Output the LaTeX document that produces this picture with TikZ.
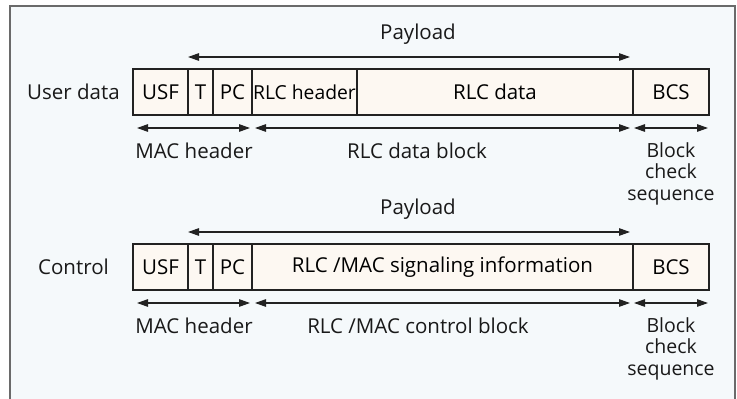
\documentclass[tikz,border=0pt]{standalone}
\usepackage{fontspec}
\setmainfont{Open Sans}
\usetikzlibrary{arrows.meta}
\definecolor{bgc}{HTML}{F5F9FB}
\definecolor{cellc}{HTML}{FDF8F2}
\definecolor{framec}{HTML}{6A6A6A}
\definecolor{linec}{HTML}{222222}
\tikzset{
  cell/.style={draw=linec, line width=1.3pt, fill=cellc, inner sep=0pt, minimum height=46pt, font=\fontsize{20.5}{22}\selectfont},
  lbl/.style={inner sep=0pt, font=\fontsize{20.5}{22}\selectfont, text=black!90},
  bcsl/.style={inner sep=0pt, align=center, anchor=north, font=\fontsize{19.5}{21.5}\selectfont, text=black!90},
  span/.style={line width=1.2pt, draw=linec, {Triangle[length=11pt,width=7.5pt]}-{Triangle[length=11pt,width=7.5pt]}},
}
\begin{document}
\begin{tikzpicture}[x=1pt,y=-1pt]
\useasboundingbox (0,0) rectangle (737,399);
\fill[bgc] (10,6) rectangle (735,410);
\draw[framec, line width=2pt] (10,410) -- (10,6) -- (735,6) -- (735,410);

% ---------- Row 1: User data ----------
\node[lbl] (ud) at (73.5,92) {User data};
\node[cell, minimum width=55pt] (usf1) at (160.5,92) {USF};
\node[cell, minimum width=25pt] (t1) at (200.5,92) {T};
\node[cell, minimum width=39pt] (pc1) at (232.5,92) {PC};
\node[cell, minimum width=105pt, font=\fontsize{19.3}{22}\selectfont] (rh1) at (304.5,92) {RLC header};
\node[cell, minimum width=276pt] (rd1) at (495,92) {RLC data};
\node[cell, minimum width=76pt] (bcs1) at (671,92) {BCS};

\node[lbl] (pl1) at (418,34) {Payload};
\coordinate (pl1a) at (188,57);
\coordinate (pl1b) at (630,57);
\draw[span] (pl1a) -- (pl1b);

\coordinate (mh1a) at (137,128);
\coordinate (mh1b) at (250,128);
\coordinate (rb1a) at (255,128);
\coordinate (rb1b) at (630,128);
\coordinate (bc1a) at (634,128);
\coordinate (bc1b) at (708,128);
\draw[span] (mh1a) -- (mh1b);
\draw[span] (rb1a) -- (rb1b);
\draw[span] (bc1a) -- (bc1b);
\node[lbl] (mhl1) at (194,151) {MAC header};
\node[lbl] (rbl1) at (417,151) {RLC data block};
\node[bcsl] (bcl1) at (671,142) {Block\\check\\sequence};

% ---------- Row 2: Control ----------
\node[lbl] (ct) at (73.5,267) {Control};
\node[cell, minimum width=55pt] (usf2) at (160.5,267) {USF};
\node[cell, minimum width=25pt] (t2) at (200.5,267) {T};
\node[cell, minimum width=39pt] (pc2) at (232.5,267) {PC};
\node[cell, minimum width=381pt] (rs2) at (442.5,267) {RLC /MAC signaling information};
\node[cell, minimum width=76pt] (bcs2) at (671,267) {BCS};

\node[lbl] (pl2) at (418,209) {Payload};
\coordinate (pl2a) at (188,232);
\coordinate (pl2b) at (630,232);
\draw[span] (pl2a) -- (pl2b);

\coordinate (mh2a) at (137,303);
\coordinate (mh2b) at (250,303);
\coordinate (rb2a) at (255,303);
\coordinate (rb2b) at (630,303);
\coordinate (bc2a) at (634,303);
\coordinate (bc2b) at (708,303);
\draw[span] (mh2a) -- (mh2b);
\draw[span] (rb2a) -- (rb2b);
\draw[span] (bc2a) -- (bc2b);
\node[lbl] (mhl2) at (194,326) {MAC header};
\node[lbl] (rbl2) at (418,326) {RLC /MAC control block};
\node[bcsl] (bcl2) at (671,317) {Block\\check\\sequence};
\end{tikzpicture}
\end{document}
